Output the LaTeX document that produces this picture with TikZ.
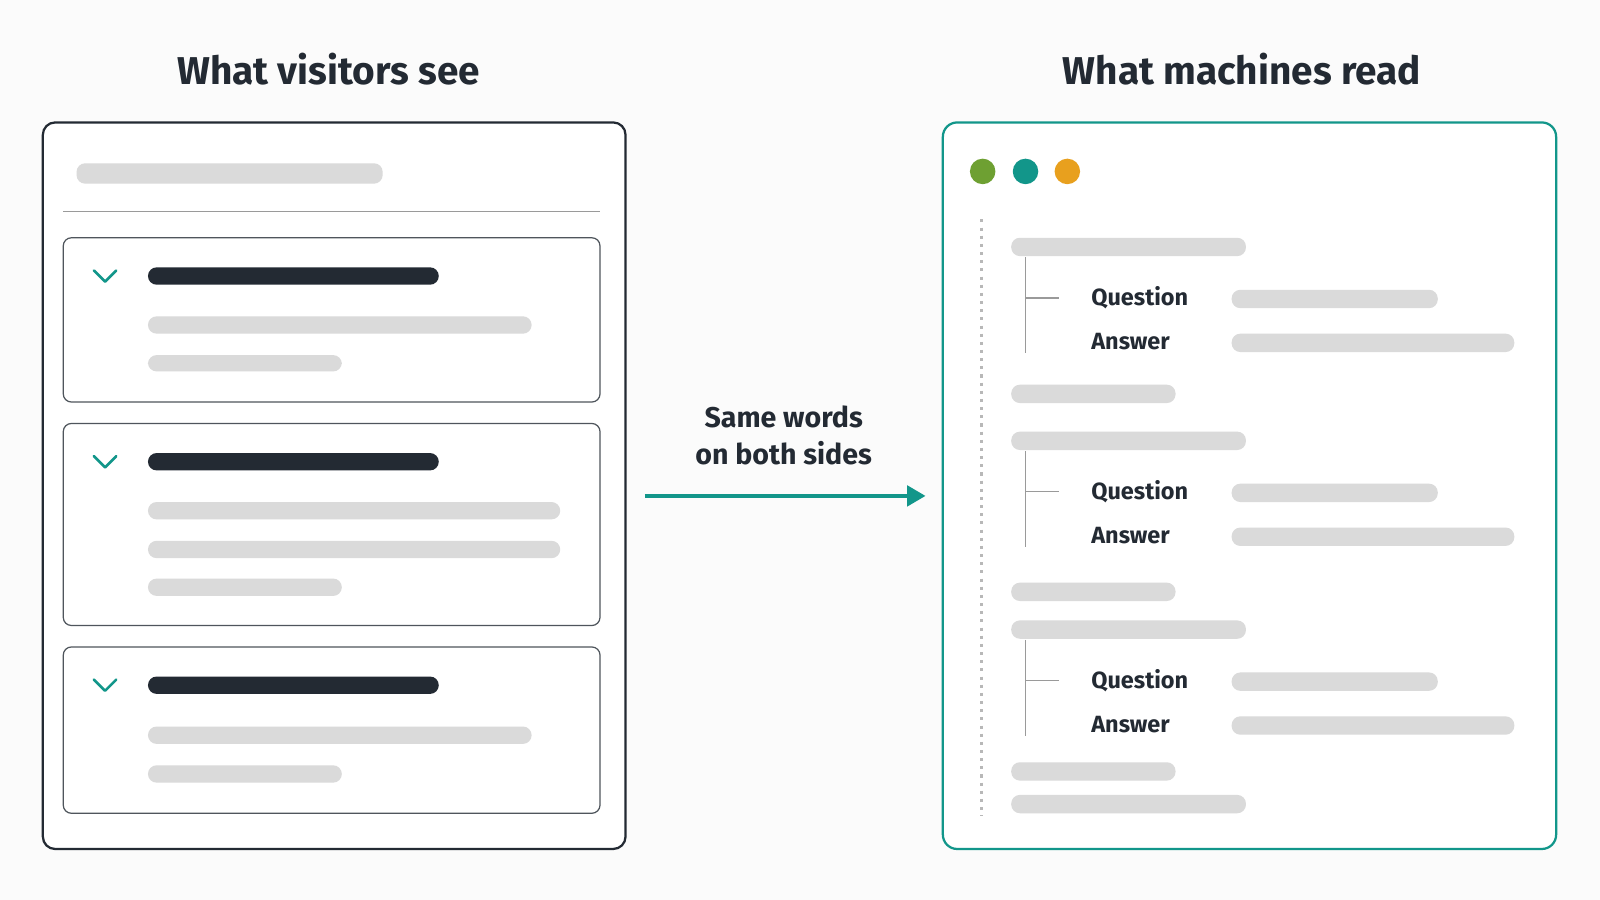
\documentclass[tikz,border=0pt]{standalone}
\usepackage{fontspec}
\setmainfont{Fira Sans}
\usetikzlibrary{arrows.meta}
\definecolor{teal1}{HTML}{12968A}
\definecolor{dark}{HTML}{232A33}
\definecolor{bar}{HTML}{DADADA}
\definecolor{tree}{HTML}{9A9A9A}
\definecolor{dgreen}{RGB}{110,160,50}
\definecolor{dorange}{RGB}{232,160,30}
\begin{document}
\begin{tikzpicture}[x=1pt,y=-1pt,
 gb/.style={fill=bar,rounded corners=8.5pt,draw=none},
 db/.style={fill=dark,rounded corners=8.5pt,draw=none},
 card/.style={draw=dark!80,line width=1.2pt,rounded corners=8pt},
 chev/.style={draw=teal1,line width=2.5pt,line cap=round,line join=round},
 title/.style={font=\fontsize{38}{44}\selectfont\bfseries,text=dark},
 lab/.style={font=\fontsize{23}{27}\selectfont\bfseries,text=dark,anchor=west},
 tr/.style={draw=tree,line width=1.2pt}]
\fill[white!97!gray] (0,0) rectangle (1568,882);
\useasboundingbox (0,0) rectangle (1568,882);
\node[title] (t1) at (322,68) {What visitors see};
\node[title] (t2) at (1217,68) {What machines read};
% left panel
\draw[draw=dark,line width=2.2pt,rounded corners=12pt,fill=white] (42,120) rectangle (613,832);
\fill[gb] (75,160) rectangle (375,180);
\draw[tree,line width=1.2pt] (62,207) -- (588,207);
\draw[card] (62,233) rectangle (588,394);
\draw[chev] (92,265) -- (103,276) -- (114,265);
\fill[db] (145,262) rectangle (430,279);
\fill[gb] (145,310) rectangle (521,327);
\fill[gb] (145,348) rectangle (335,364);
\draw[card] (62,415) rectangle (588,613);
\draw[chev] (92,447) -- (103,458) -- (114,447);
\fill[db] (145,444) rectangle (430,461);
\fill[gb] (145,492) rectangle (549,509);
\fill[gb] (145,530) rectangle (549,547);
\fill[gb] (145,567) rectangle (335,584);
\draw[card] (62,634) rectangle (588,797);
\draw[chev] (92,666) -- (103,677) -- (114,666);
\fill[db] (145,663) rectangle (430,680);
\fill[gb] (145,712) rectangle (521,729);
\fill[gb] (145,750) rectangle (335,767);
% arrow
\coordinate (a1) at (632,486);
\coordinate (a2) at (907,486);
\draw[teal1,line width=3.5pt,-{Triangle[length=18pt,width=20pt]}] (a1) -- (a2);
\node[font=\fontsize{28}{36}\selectfont\bfseries,text=dark,align=center] (mid) at (768,427) {Same words\\on both sides};
% right panel
\draw[draw=teal1,line width=2.2pt,rounded corners=14pt,fill=white] (924,120) rectangle (1525,832);
\fill[dgreen] (963,168) circle (12.5);
\fill[teal1] (1005,168) circle (12.5);
\fill[dorange] (1046,168) circle (12.5);
\draw[tree!70,line width=2.5pt,dash pattern=on 3pt off 5pt] (962,215) -- (962,800);
\foreach \y/\b in {233/377, 423/571, 608/747} {
  \fill[gb] (991,\y) rectangle (1221,\y+18);
  \draw[tr] (1005,\y+19) -- (1005,\y+113);
  \draw[tr] (1005,\y+59) -- (1038,\y+59);
  \node[lab] at (1066,\y+59) {Question};
  \node[lab] at (1066,\y+102) {Answer};
  \fill[gb] (1207,\y+51) rectangle (1409,\y+69);
  \fill[gb] (1207,\y+94) rectangle (1484,\y+112);
  \fill[gb] (991,\b) rectangle (1152,\b+18);
}
\fill[gb] (991,779) rectangle (1221,797);
\end{tikzpicture}
\end{document}
